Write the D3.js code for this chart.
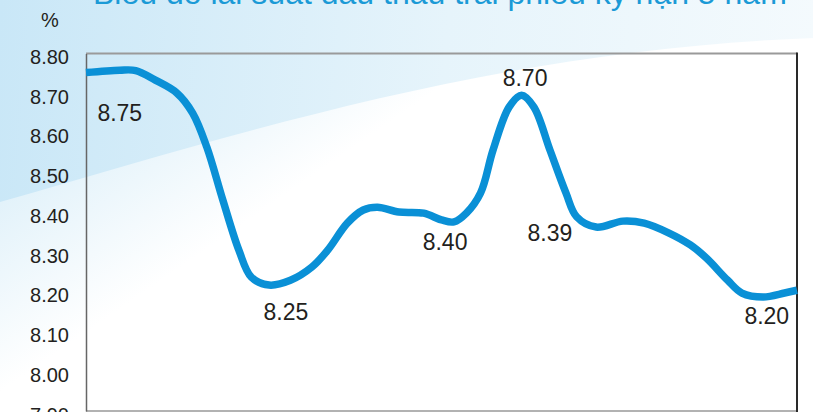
<!DOCTYPE html>
<meta charset="utf-8">
<script src="https://d3js.org/d3.v7.min.js"></script>
<style>
  body { margin: 0; background: #fff; }
  text { font-family: "Liberation Sans", Arial, sans-serif; }
</style>
<body>
<div id="chart"></div>
<script>
// title and axis
var title = "Biểu đồ lãi suất đấu thầu trái phiếu kỳ hạn 5 năm";
var unit = "%";
var yTicks = [7.90, 8.00, 8.10, 8.20, 8.30, 8.40, 8.50, 8.60, 8.70, 8.80];

// smoothed series, t = position along the time axis (0..40), v = rate in %
var seriesT = [0, 1.9, 2.8, 3.9, 5.1, 6.0, 6.8, 7.7, 8.6, 9.3, 10.3, 11.5, 12.7, 13.6,
  14.7, 15.6, 16.4, 17.6, 19.0, 20.0, 20.7, 21.4, 22.2, 22.9, 23.8, 24.5, 25.2, 26.1,
  27.0, 27.6, 28.7, 30.2, 31.4, 32.8, 34.0, 34.9, 36.1, 36.9, 38.1, 39.3, 40];
var seriesV = [8.752, 8.758, 8.757, 8.733, 8.701, 8.650, 8.564, 8.431, 8.305, 8.237, 8.217,
  8.229, 8.262, 8.305, 8.373, 8.406, 8.413, 8.401, 8.398, 8.381, 8.376, 8.398, 8.449,
  8.557, 8.665, 8.695, 8.665, 8.557, 8.449, 8.389, 8.363, 8.378, 8.373, 8.348, 8.318,
  8.285, 8.229, 8.197, 8.187, 8.197, 8.204];

// value labels written on the chart
var labelText = ["8.75", "8.25", "8.40", "8.70", "8.39", "8.20"];
var labelT = [1.9, 11.25, 20.2, 24.7, 26.1, 38.3];
var labelV = [8.651, 8.149, 8.325, 8.738, 8.348, 8.139];

var W = 813, H = 412;
var plotL = 86, plotR = 797, plotT = 53.5, plotB = 411;

var svg = d3.select("#chart").append("svg")
  .attr("width", W).attr("height", H);

var defs = svg.append("defs");
var bg = defs.append("linearGradient").attr("id", "bg")
  .attr("gradientUnits", "userSpaceOnUse")
  .attr("x1", 0).attr("y1", 0).attr("x2", W).attr("y2", 60);
bg.append("stop").attr("offset", 0).attr("stop-color", "#c9e7f7");
bg.append("stop").attr("offset", 0.55).attr("stop-color", "#e6f4fb");
bg.append("stop").attr("offset", 1).attr("stop-color", "#f4fafd");

var sw = defs.append("linearGradient").attr("id", "swoosh")
  .attr("gradientUnits", "userSpaceOnUse")
  .attr("x1", 0).attr("y1", 200).attr("x2", 90).attr("y2", 330);
sw.append("stop").attr("offset", 0).attr("stop-color", "#e2f2fa");
sw.append("stop").attr("offset", 1).attr("stop-color", "#ffffff");

svg.append("rect").attr("width", W).attr("height", H).attr("fill", "url(#bg)");
svg.append("path")
  .attr("d", "M0,202 C250,130 500,50 813,38 L813,412 L0,412 Z")
  .attr("fill", "url(#swoosh)");

// title, only its lower part shows
svg.append("text")
  .attr("x", 93).attr("y", 4)
  .style("font-size", "32px")
  .style("fill", "#1b9ad6")
  .text(title);

svg.append("text")
  .attr("x", 50).attr("y", 27)
  .attr("text-anchor", "middle")
  .style("font-size", "20px")
  .style("fill", "#231f20")
  .text(unit);

var x = d3.scaleLinear().domain([0, 40]).range([plotL, plotR]);
var y = d3.scaleLinear().domain([7.90, 8.80]).range([plotB, plotT]);

// frame
svg.append("line").attr("x1", plotL).attr("x2", plotR).attr("y1", plotT).attr("y2", plotT)
  .attr("stroke", "#9a9a9a").attr("stroke-width", 2);
svg.append("line").attr("x1", plotL).attr("x2", plotR).attr("y1", plotB).attr("y2", plotB)
  .attr("stroke", "#999").attr("stroke-width", 1.5);
svg.append("line").attr("x1", plotR).attr("x2", plotR).attr("y1", plotT - 1).attr("y2", H)
  .attr("stroke", "#2a2a2a").attr("stroke-width", 2);

var yAxis = svg.append("g")
  .attr("transform", "translate(" + plotL + ",0)")
  .call(d3.axisLeft(y).tickValues(yTicks).tickFormat(d3.format(".2f"))
    .tickSize(0).tickPadding(17));
yAxis.select(".domain").attr("stroke", "#666").attr("stroke-width", 1.5);
yAxis.selectAll("text")
  .attr("dy", "0.5em")
  .style("font-size", "20px")
  .style("font-family", "'Liberation Sans', Arial, sans-serif")
  .style("fill", "#231f20");

var pts = seriesT.map(function (t, i) { return [t, seriesV[i]]; });
var line = d3.line()
  .x(function (d) { return x(d[0]); })
  .y(function (d) { return y(d[1]); })
  .curve(d3.curveCatmullRom.alpha(0.5));

svg.append("path")
  .datum(pts)
  .attr("d", line)
  .attr("fill", "none")
  .attr("stroke", "#0a90d6")
  .attr("stroke-width", 7.5)
  .attr("stroke-linejoin", "round");

svg.selectAll(".lbl")
  .data(labelText)
  .enter().append("text")
  .attr("class", "lbl")
  .attr("x", function (d, i) { return x(labelT[i]); })
  .attr("y", function (d, i) { return y(labelV[i]); })
  .attr("dy", "0.36em")
  .attr("text-anchor", "middle")
  .style("font-size", "23px")
  .style("fill", "#231f20")
  .text(function (d) { return d; });
</script>
</body>
